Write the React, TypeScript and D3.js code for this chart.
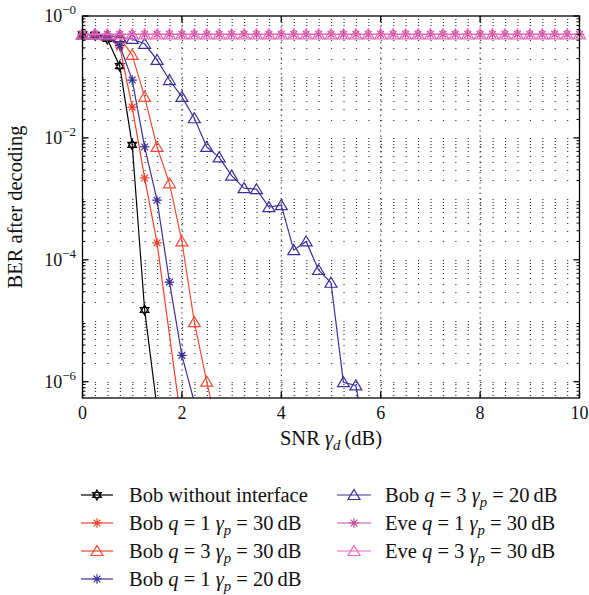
import React, { useEffect, useRef } from 'react';
import * as d3 from 'd3';

const W = 589;
const H = 595;
const FONT = "'Liberation Serif', 'Times New Roman', serif";

// plot box in pixels
const box = { left: 82.5, right: 579.5, top: 16, bottom: 398 };
const yMin = 5.4e-7;

// x ticks and y ticks
const xTicks = [0, 2, 4, 6, 8, 10];
const yTicks = [1, 1e-2, 1e-4, 1e-6];
const yTickExp = ['0', '2', '4', '6'];

// Bob without interface
const snrBob0 = [0, 0.25, 0.5, 0.75, 1, 1.25, 1.5];
const berBob0 = [0.5, 0.49, 0.42, 0.15, 7.7e-3, 1.5e-5, 3.7e-7];

// Bob q = 1, gamma_p = 30 dB
const snrBobQ1P30 = [0, 0.25, 0.5, 0.75, 1, 1.25, 1.5, 2];
const berBobQ1P30 = [0.5, 0.49, 0.45, 0.31, 3.2e-2, 2.2e-3, 1.9e-4, 1.8e-7];

// Bob q = 3, gamma_p = 30 dB
const snrBobQ3P30 = [0, 0.25, 0.5, 0.75, 1, 1.25, 1.5, 1.75, 2, 2.25, 2.5, 2.75];
const berBobQ3P30 = [0.5, 0.5, 0.48, 0.44, 0.23, 4.7e-2, 7.1e-3, 1.8e-3, 2.0e-4, 9.5e-6, 1.0e-6, 1.2e-7];

// Bob q = 1, gamma_p = 20 dB
const snrBobQ1P20 = [0, 0.25, 0.5, 0.75, 1, 1.25, 1.5, 1.75, 2, 2.25];
const berBobQ1P20 = [0.5, 0.49, 0.46, 0.33, 8.9e-2, 7.1e-3, 9.5e-4, 4.3e-5, 2.7e-6, 4.6e-7];

// Bob q = 3, gamma_p = 20 dB
const snrBobQ3P20 = [0, 0.25, 0.5, 0.75, 1, 1.25, 1.5, 1.75, 2, 2.25, 2.5, 2.75, 3,
    3.25, 3.5, 3.75, 4, 4.25, 4.5, 4.75, 5, 5.25, 5.5, 5.75];
const berBobQ3P20 = [0.5, 0.5, 0.48, 0.45, 0.42, 0.35, 0.19, 8.9e-2, 4.7e-2, 2.1e-2, 7.1e-3, 4.8e-3, 2.4e-3,
    1.5e-3, 1.44e-3, 7.3e-4, 7.9e-4, 1.44e-4, 2.0e-4, 6.8e-5, 4.2e-5, 9.8e-7, 8.7e-7, 6.4e-8];

// Eve, both q values sit at 0.5 over the full range
const snrEve = [0, 0.25, 0.5, 0.75, 1, 1.25, 1.5, 1.75, 2, 2.25, 2.5, 2.75, 3, 3.25, 3.5, 3.75,
    4, 4.25, 4.5, 4.75, 5, 5.25, 5.5, 5.75, 6, 6.25, 6.5, 6.75, 7, 7.25, 7.5, 7.75,
    8, 8.25, 8.5, 8.75, 9, 9.25, 9.5, 9.75, 10];
const berEveQ1 = [0.5, 0.5, 0.5, 0.5, 0.5, 0.5, 0.5, 0.5, 0.5, 0.5, 0.5, 0.5, 0.5, 0.5, 0.5, 0.5,
    0.5, 0.5, 0.5, 0.5, 0.5, 0.5, 0.5, 0.5, 0.5, 0.5, 0.5, 0.5, 0.5, 0.5, 0.5, 0.5,
    0.5, 0.5, 0.5, 0.5, 0.5, 0.5, 0.5, 0.5, 0.5];
const berEveQ3 = [0.5, 0.5, 0.5, 0.5, 0.5, 0.5, 0.5, 0.5, 0.5, 0.5, 0.5, 0.5, 0.5, 0.5, 0.5, 0.5,
    0.5, 0.5, 0.5, 0.5, 0.5, 0.5, 0.5, 0.5, 0.5, 0.5, 0.5, 0.5, 0.5, 0.5, 0.5, 0.5,
    0.5, 0.5, 0.5, 0.5, 0.5, 0.5, 0.5, 0.5, 0.5];

// legend labels
const legendWho = ['Bob without interface', 'Bob', 'Bob', 'Bob', 'Bob', 'Eve', 'Eve'];
const legendQ = [null, 1, 3, 1, 3, 1, 3];
const legendGp = [null, 30, 30, 20, 20, 30, 30];

const series = [
    { x: snrBob0, y: berBob0, color: '#000000', marker: 'hex' },
    { x: snrBobQ1P30, y: berBobQ1P30, color: '#f0412a', marker: 'star' },
    { x: snrBobQ3P30, y: berBobQ3P30, color: '#f04a32', marker: 'tri' },
    { x: snrBobQ1P20, y: berBobQ1P20, color: '#3b2f98', marker: 'star' },
    { x: snrBobQ3P20, y: berBobQ3P20, color: '#3b2f98', marker: 'tri' },
    { x: snrEve, y: berEveQ1, color: '#c64aa0', marker: 'star' },
    { x: snrEve, y: berEveQ3, color: '#e56bbb', marker: 'tri' },
];

// marker shapes centred on 0,0
const markerPath = (type) => {
    if (type === 'tri') return 'M0,-5.5L6,4.5L-6,4.5Z';
    if (type === 'star') return 'M0,-4.8V4.8M-4.8,0H4.8M-3.4,-3.4L3.4,3.4M-3.4,3.4L3.4,-3.4';
    return 'M0,-5L4.33,2.5L-4.33,2.5ZM0,5L4.33,-2.5L-4.33,-2.5Z';
};

// writes a label made of roman, italic and subscript pieces
const writeParts = (text, parts) => {
    parts.forEach(([s, kind], i) => {
        const prev = i > 0 ? parts[i - 1][1] : 'r';
        const t = text.append('tspan').text(s);
        if (kind !== 'r') t.attr('font-style', 'italic');
        if (kind === 'sub') t.attr('dy', 5).attr('font-size', '0.72em');
        else if (prev === 'sub') t.attr('dy', -5);
    });
};

const legendParts = (i) => {
    if (legendQ[i] === null) return [[legendWho[i], 'r']];
    return [
        [`${legendWho[i]} `, 'r'], ['q', 'i'], [` = ${legendQ[i]} `, 'r'],
        ['\u03b3', 'i'], ['p', 'sub'], [` = ${legendGp[i]}\u2009dB`, 'r'],
    ];
};

const drawGrid = (svg, x, y) => {
    const g = svg.append('g').attr('stroke', '#333').attr('stroke-width', 1.2).attr('fill', 'none');
    const step = x(0.25) - x(0);
    const rows = [];
    for (let k = -7; k <= 0; k += 1) {
        for (let m = 1; m <= 9; m += 1) {
            const v = m * 10 ** k;
            if (v >= yMin && v < 1) rows.push(v);
        }
    }
    g.selectAll('line.h').data(rows).enter().append('line')
        .attr('x1', box.left).attr('x2', box.right)
        .attr('y1', (d) => Math.round(y(d)) + 0.5)
        .attr('y2', (d) => Math.round(y(d)) + 0.5)
        .attr('stroke-dasharray', `1.2 ${step - 1.2}`);
    g.selectAll('line.v').data([2, 4, 6, 8]).enter().append('line')
        .attr('x1', (d) => x(d)).attr('x2', (d) => x(d))
        .attr('y1', box.top).attr('y2', box.bottom)
        .attr('stroke-dasharray', '1.2 4');
};

const drawAxes = (svg, x, y) => {
    const g = svg.append('g').attr('stroke', '#000').attr('stroke-width', 1.3).attr('fill', 'none');
    g.append('rect')
        .attr('x', box.left).attr('y', box.top)
        .attr('width', box.right - box.left).attr('height', box.bottom - box.top);
    xTicks.forEach((t) => {
        g.append('line').attr('x1', x(t)).attr('x2', x(t)).attr('y1', box.bottom).attr('y2', box.bottom - 6);
        g.append('line').attr('x1', x(t)).attr('x2', x(t)).attr('y1', box.top).attr('y2', box.top + 6);
    });
    yTicks.forEach((t) => {
        g.append('line').attr('x1', box.left).attr('x2', box.left + 6).attr('y1', y(t)).attr('y2', y(t));
        g.append('line').attr('x1', box.right).attr('x2', box.right - 6).attr('y1', y(t)).attr('y2', y(t));
    });
    const minor = [];
    for (let k = -7; k < 0; k += 1) {
        for (let m = 2; m <= 9; m += 1) {
            const v = m * 10 ** k;
            if (v >= yMin) minor.push(v);
        }
    }
    minor.forEach((t) => {
        g.append('line').attr('x1', box.left).attr('x2', box.left + 3).attr('y1', y(t)).attr('y2', y(t))
            .attr('stroke-width', 1);
        g.append('line').attr('x1', box.right).attr('x2', box.right - 3).attr('y1', y(t)).attr('y2', y(t))
            .attr('stroke-width', 1);
    });

    // tick labels
    const lab = svg.append('g').attr('font-family', FONT).attr('fill', '#111');
    lab.selectAll('text.x').data(xTicks).enter().append('text')
        .attr('x', (d) => x(d)).attr('y', 419)
        .attr('text-anchor', 'middle').attr('font-size', 18)
        .text((d) => d);
    yTicks.forEach((t, i) => {
        const txt = lab.append('text')
            .attr('x', 76).attr('y', y(t) + 6)
            .attr('text-anchor', 'end').attr('font-size', 18);
        txt.append('tspan').text('10');
        txt.append('tspan').attr('dy', -8).attr('font-size', 13).text(`\u2212${yTickExp[i]}`);
    });

    // axis titles
    const xt = lab.append('text')
        .attr('x', (box.left + box.right) / 2).attr('y', 445)
        .attr('text-anchor', 'middle').attr('font-size', 20.5);
    writeParts(xt, [['SNR ', 'r'], ['\u03b3', 'i'], ['d', 'sub'], ['\u2009(dB)', 'r']]);
    lab.append('text')
        .attr('transform', `translate(21.5,${(box.top + box.bottom) / 2}) rotate(-90)`)
        .attr('text-anchor', 'middle').attr('font-size', 20.5)
        .text('BER after decoding');
};

const drawSeries = (svg, x, y) => {
    svg.append('clipPath').attr('id', 'plotclip')
        .append('rect')
        .attr('x', box.left - 10).attr('y', box.top - 10)
        .attr('width', box.right - box.left + 20).attr('height', box.bottom - box.top + 10);
    const g = svg.append('g').attr('clip-path', 'url(#plotclip)');
    const line = d3.line().x((d) => x(d[0])).y((d) => y(d[1]));
    series.forEach((s) => {
        const pts = s.x.map((v, i) => [v, s.y[i]]);
        g.append('path')
            .attr('d', line(pts))
            .attr('fill', 'none').attr('stroke', s.color).attr('stroke-width', 1.2);
        g.selectAll(null).data(pts.filter((p) => p[1] >= yMin)).enter().append('path')
            .attr('transform', (d) => `translate(${x(d[0])},${y(d[1])})`)
            .attr('d', markerPath(s.marker))
            .attr('fill', 'none').attr('stroke', s.color).attr('stroke-width', 1.2);
    });
};

const drawLegend = (svg) => {
    const cols = [{ x1: 81, x2: 113, tx: 129 }, { x1: 337, x2: 371, tx: 385 }];
    const rowY = [495, 523, 551, 579];
    series.forEach((s, i) => {
        const c = cols[i < 4 ? 0 : 1];
        const ry = rowY[i < 4 ? i : i - 4];
        const g = svg.append('g');
        g.append('line').attr('x1', c.x1).attr('x2', c.x2).attr('y1', ry).attr('y2', ry)
            .attr('stroke', s.color).attr('stroke-width', 1.2);
        g.append('path')
            .attr('transform', `translate(${(c.x1 + c.x2) / 2},${ry})`)
            .attr('d', markerPath(s.marker))
            .attr('fill', 'none').attr('stroke', s.color).attr('stroke-width', 1.2);
        const txt = g.append('text')
            .attr('x', c.tx).attr('y', ry + 7)
            .attr('font-family', FONT).attr('font-size', 20.5).attr('fill', '#111');
        writeParts(txt, legendParts(i));
    });
};

const App = () => {
    const ref = useRef(null);
    useEffect(() => {
        const svg = d3.select(ref.current);
        svg.selectAll('*').remove();
        const x = d3.scaleLinear().domain([0, 10]).range([box.left, box.right]);
        const y = d3.scaleLog().domain([yMin, 1]).range([box.bottom, box.top]);
        drawGrid(svg, x, y);
        drawSeries(svg, x, y);
        drawAxes(svg, x, y);
        drawLegend(svg);
    }, []);

    return (
        <svg
            ref={ref}
            width={W}
            height={H}
            style={{ position: 'absolute', left: 0, top: 0, background: '#fff' }}
        />
    );
};

export default App;
